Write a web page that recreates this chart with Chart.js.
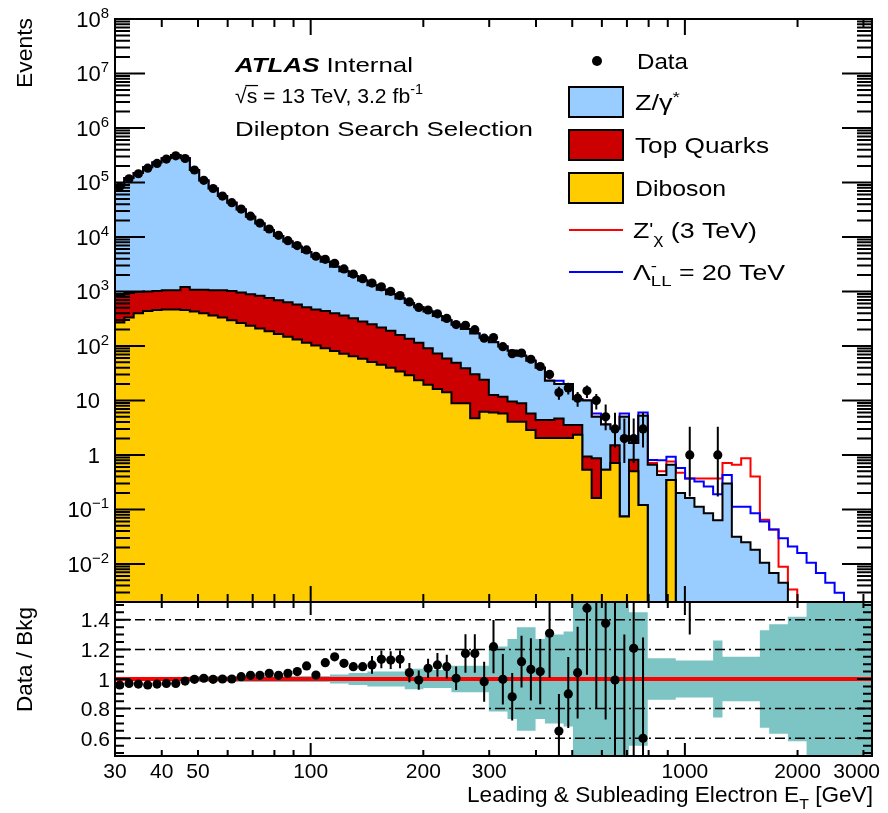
<!DOCTYPE html>
<html><head><meta charset="utf-8">
<script src="https://cdn.jsdelivr.net/npm/chart.js@4/dist/chart.umd.min.js"></script>
<style>
html,body{margin:0;padding:0;background:#fff;}
#wrap{position:relative;width:888px;height:813px;overflow:hidden;}
#wrap canvas{position:absolute;left:0;top:0;}
</style></head><body>
<div id="wrap">
<canvas id="cTop" width="888" height="813"></canvas>
<canvas id="cRatio" width="888" height="813"></canvas>
</div>
<script>
// ---------------- DATA ----------------
// Bin edges of the leading & subleading electron ET histogram [GeV]
const binEdges = [30.00,31.78,33.66,35.65,37.76,39.99,42.36,44.87,47.53,50.34,
53.32,56.47,59.81,63.36,67.11,71.08,75.29,79.74,84.46,89.46,
94.75,100.36,106.30,112.60,119.26,126.32,133.80,141.72,150.11,158.99,
168.40,178.37,188.93,200.11,211.96,224.50,237.79,251.87,266.78,282.57,
299.28,317.00,335.76,355.63,376.68,398.98,422.60,447.62,474.11,502.18,
531.88,563.36,596.71,632.04,669.45,709.07,751.05,795.50,842.59,892.47,
945.26,1001.2,1060.5,1123.2,1189.7,1260.2,1334.8,1413.8,1497.5,1586.1,
1679.9,1779.3,1884.7,1996.2,2114.4,2239.5,2372.1,2512.5,2661.2,2818.8,
2985.6,3162.3];

// Background components (events per bin)
const zGamma = [86250,119290,148650,189550,230720,276290,317370,278050,168750,108070,
76580,55190,41635,31034,22551,16747,12731,9779,7591,6032,
4796,3847,3071,2453,1981,1604,1303,1052,853,700,
583,482,398,336,282.6,236,196.5,165,139.8,117,
104.9,86,71.75,57.2,47.95,35.43,18.53,15.3,16.45,6.95,
9.07,4.14,3.09,1.51,4.94,0.847,5.13,0.66,0.427,0.313,
0.2,0.162,0.112,0.085,0.063,0.30,0.0316,0.0251,0.0182,0.0105,
0.0068,0.0045,0,0,0,0,0,0,0,0,0];
const topQuarks = [582,602,579,563,566,579,579,745,645,674,
684,716,728,692,657,623,573,526,483,443,
398,366,346,317,291,259,224,200,174,151,
124,106,91.6,71.7,56.2,44.8,40.1,30,25.5,17.8,
6.6,5.95,5.48,4.83,2.87,2.33,2.33,2.64,1.51,1.21,
0.396,0.709,0,0.80,0,0.312,0,0,0,0,
0,0,0,0,0,0,0,0,0,0,
0,0,0,0,0,0,0,0,0,0,0];
const diboson = [269,331,398,437,457,468,468,457,427,398,
363,331,295,263,234,209,186,166,148,132,
115,102,91,81,72,65,58,51,45,40,
34,29,23.4,19.5,16.2,14.1,8.9,8.9,4.7,6.2,
6.0,5.75,4.07,4.07,2.88,2.04,2.04,2.04,2.04,2.34,
0.537,0.162,0.537,0.708,0.074,0.501,0.12,0,0,0.347,
0,0,0,0,0,0,0,0,0,0,
0,0,0,0,0,0,0,0,0,0,0];
// Signal contributions added on top of the total background
const zPrimeSignal = [0,0,0,0,0,0,0,0,0,0, 0,0,0,0,0,0,0,0,0,0,
0,0,0,0,0,0,0,0,0,0, 0,0,0,0,0,0,0,0,0,0,
0,0,0,0,0,0,0,0,0,0, 0,0,0,0,0,0,0,0.048,0.073,0.10,
0.27,0.208,0.258,0.285,0.307,0.41,0.628,0.845,0.382,0.0541,
0.0359,0.0044,0.0034,0,0,0,0,0,0,0,0];
const ciSignal = [0,0,0,0,0,0,0,0,0,0, 0,0,0,0,0,0,0,0,0,0,
0,0,0,0,0,0,0,0,0,0, 0,0,0,0,0,0,0,0,0,0,
0,0,0,0,0,0,0,2.9,0,0, 0,0.74,0,0,0.74,0,0.75,0.15,0.373,0.27,
0.375,0.208,0.212,0.178,0.127,0.13,0.080,0.087,0.067,0.0495,
0.036,0.025,0.0209,0.0158,0.0105,0.0068,0.0045,0.00295,0,0,0];
// Observed data (events per bin)
const dataCounts = [83600,116600,144500,182900,223900,269000,308900,275300,169500,109700,
77500,56230,42660,32500,24030,18020,14000,10730,8535,6937,
5776,4431,3894,3279,2593,2088,1716,1427,1215,1005,
840,643,509,457,388,320,247,240,199,139,
143,97,72,74,57,42,30,14,17,11,
15,10,5,3,2,2,3,0,0,0,
0,1,0,0,1,0,0,0,0,0,
0,0,0,0,0,0,0,0,0,0,0];
// Ratio panel: Data / Bkg, its error bars, and the background uncertainty band
const ratioValues = [0.96,0.97,0.966,0.96,0.966,0.97,0.97,0.986,0.998,1.005,
0.998,1.0,1.0,1.016,1.025,1.025,1.038,1.025,1.038,1.05,
1.088,1.027,1.11,1.15,1.106,1.083,1.083,1.095,1.133,1.128,
1.133,1.043,0.993,1.072,1.095,1.083,1.005,1.173,1.173,0.982,
1.218,0.998,0.88,1.117,1.065,1.05,1.309,0.649,0.899,1.043,
1.478,1.65,1.376,0.993,0.40,1.207,0.60,null,null,null,
null,3.3,null,null,10,null,null,null,null,null,
null,null,null,null,null,null,null,null,null,null,null];
const ratioErrUp = [0.004,0.004,0.004,0.004,0.004,0.004,0.004,0.004,0.004,
0.006,0.006,0.006,0.006,0.006,0.006,
0.01,0.01,0.01,0.01,0.01,
0.015,0.015,0.015,
0.02,0.02,0.02,0.02,
0.06,0.06,0.06,0.06,
0.065,0.065,0.065,
0.08,0.08,0.08,
0.13,0.13,0.135,0.18,0.17,0.16,0.175,0.21,0.22,0.30,
0.25,0.25,0.31,0.5,0.8,0.6,0.9,0.9,0.9,0.68,
0,0,0,0, 5.0, 0,0, 20,
0,0,0,0,0,0,0,0,0,0,0,0,0,0,0,0];
const ratioErrDn = [0.004,0.004,0.004,0.004,0.004,0.004,0.004,0.004,0.004,
0.006,0.006,0.006,0.006,0.006,0.006,
0.01,0.01,0.01,0.01,0.01,
0.015,0.015,0.015,
0.02,0.02,0.02,0.02,
0.06,0.06,0.06,0.06,
0.065,0.065,0.065,
0.08,0.08,0.08,
0.13,0.13,0.135,0.18,0.17,0.16,0.175,0.21,0.22,0.30,
0.25,0.23,0.31,0.45,0.85,0.65,0.55,0.3,0.8,0.4,
0,0,0,0, 2.0, 0,0, 8.3,
0,0,0,0,0,0,0,0,0,0,0,0,0,0,0,0];
const bandHalfWidth = [0.012,0.012,0.012,0.012,0.012,0.012,0.012,0.012,0.02,0.02,
0.02,0.02,0.02,0.02,0.02,0.02,0.02,0.02,0.02,0.02,
0.02,0.02,0.02,0.03,0.03,0.04,0.04,0.05,0.05,0.05,
0.05,0.07,0.07,0.06,0.06,0.06,0.09,0.09,0.09,0.09,
0.22,0.22,0.27,0.35,0.35,0.27,0.3,0.3,0.32,0.6,
0.6,0.6,0.6,0.6,0.6,0.45,0.45,0.14,0.14,0.14,
0.125,0.125,0.125,0.125,0.26,0.15,0.15,0.15,0.15,0.33,
0.37,0.37,0.42,0.42,0.6,0.6,0.6,0.6,0.6,0.6,0.6];
const ratioReference = 1;

// Axis tick labels
const xTickLabels = [30,40,50,100,200,300,1000,2000,3000];
const xMajorTicks = [100,1000];
const xMinorTicks = [40,50,60,70,80,90,200,300,400,500,600,700,800,900,2000,3000];
const yTopExponents = [8,7,6,5,4,3,2,1,0,-1,-2];
const ratioTickLabels = ['0.6','0.8','1','1.2','1.4'];
const ratioGridValues = [0.6,0.8,1.2,1.4];

// ---------------- helpers ----------------
[zGamma,topQuarks,diboson,zPrimeSignal,ciSignal,dataCounts,ratioValues,ratioErrUp,ratioErrDn,bandHalfWidth].forEach((a,k)=>{
  if (a.length !== binEdges.length-1) throw new Error('array '+k+' has length '+a.length);
});
const FLOOR = 1e-6;
const pos = v => (v > 0 ? v : FLOOR);
function histPoints(vals, floorZero=true) {
  const f = floorZero ? pos : (v=>v);
  const pts = vals.map((v, i) => ({ x: binEdges[i], y: f(v) }));
  pts.push({ x: binEdges[vals.length], y: f(vals[vals.length - 1]) });
  return pts;
}
const centers = binEdges.slice(0, -1).map((e, i) => Math.sqrt(e * binEdges[i + 1]));
const stackDib = diboson.slice();
const stackTop = diboson.map((v, i) => v + topQuarks[i]);
const stackZ = stackTop.map((v, i) => v + zGamma[i]);
const zpLine = stackZ.map((v, i) => v + zPrimeSignal[i]);
const ciLine = stackZ.map((v, i) => v + ciSignal[i]);

function poissonInterval(n){
  const t = {1:[0.173,3.30],2:[0.708,4.64],3:[1.37,5.92],4:[2.09,7.16],5:[2.84,8.38]};
  return t[n] || [n-Math.sqrt(n), n+Math.sqrt(n)];
}
const dataPts = centers.map((c,i)=>({x:c, y: dataCounts[i]>0 ? dataCounts[i] : null}));
const dataErrPts = [];
centers.forEach((c,i)=>{ const n=dataCounts[i]; if(!(n>0)) return; const [lo,hi]=poissonInterval(n);
  dataErrPts.push({x:c,y:lo},{x:c,y:hi},{x:c,y:null}); });
const ratioPts = centers.map((c,i)=>({x:c, y: ratioValues[i]}));
const ratioErrPts = [];
centers.forEach((c,i)=>{ const r=ratioValues[i]; if(r==null) return;
  ratioErrPts.push({x:c,y:r-ratioErrDn[i]},{x:c,y:r+ratioErrUp[i]},{x:c,y:null}); });
const bandUp = bandHalfWidth.map(w=>ratioReference+w);
const bandDn = bandHalfWidth.map(w=>ratioReference-w);

const FAMILY = '"Liberation Sans", Arial, Helvetica, sans-serif';
function segFont(s,size){ const fs=size*(s.sc||1); return (s.it?'italic ':'')+(s.b?'bold ':'')+fs.toFixed(2)+'px '+FAMILY; }
function richWidth(ctx,segs,size){ let w=0; for(const s of segs){ if(s.na) continue; ctx.font=segFont(s,size); w+=ctx.measureText(s.t).width; } return w; }
function drawRich(ctx,segs,x,y,size,opt={}){
  const w=richWidth(ctx,segs,size);
  const k=opt.width? opt.width/w : 1;
  ctx.save(); ctx.translate(x,y); ctx.scale(k,1);
  ctx.textAlign='left'; ctx.textBaseline='alphabetic'; ctx.fillStyle=opt.color||'#000';
  let cx = opt.align==='right' ? -w : (opt.align==='center' ? -w/2 : 0);
  for(const s of segs){
    ctx.font=segFont(s,size);
    const dy=(s.dy||0)*size;
    ctx.fillText(s.t,cx,dy);
    const sw=ctx.measureText(s.t).width;
    if(s.over){ ctx.fillRect(cx-size*0.06, dy-size*0.86, sw+size*0.1, Math.max(1.2,size*0.06)); }
    if(!s.na) cx+=sw;
  }
  ctx.restore();
}

// ---------------- decorations (frames, ticks, labels) ----------------
const topDecor = {
  id:'topDecor',
  afterDraw(chart){
    const {ctx, chartArea:a, scales:{x,y}} = chart;
    ctx.save();
    ctx.strokeStyle='#000'; ctx.lineWidth=2; ctx.lineCap='butt';
    ctx.beginPath();
    for(let d=-3; d<=8; d++) for(let m=1; m<=9; m++){
      const v=m*Math.pow(10,d); if(v<y.min*0.999||v>y.max*1.001) continue;
      const py=y.getPixelForValue(v); const L=m===1?30:15;
      ctx.moveTo(a.left,py); ctx.lineTo(a.left+L,py);
      ctx.moveTo(a.right,py); ctx.lineTo(a.right-L,py);
    }
    for(const v of xMinorTicks.concat(xMajorTicks)){
      const px=x.getPixelForValue(v); const L=xMajorTicks.includes(v)?16:8;
      ctx.moveTo(px,a.top); ctx.lineTo(px,a.top+L);
      ctx.moveTo(px,a.bottom); ctx.lineTo(px,a.bottom-L);
    }
    ctx.stroke();
    ctx.strokeRect(a.left,a.top,a.right-a.left,a.bottom-a.top);

    // y tick labels
    ctx.fillStyle='#000';
    for(const e of yTopExponents){
      const py=y.getPixelForValue(Math.pow(10,e)); const base=py+8;
      if(e===0) drawRich(ctx,[{t:'1'}],100,base,22,{align:'right'});
      else if(e===1) drawRich(ctx,[{t:'10'}],100,base,22,{align:'right'});
      else drawRich(ctx,[{t:'10'},{t:(e<0?'\u2212'+(-e):String(e)),sc:0.68,dy:-0.42}],109,base,22,{align:'right'});
    }
    // y title
    ctx.save(); ctx.translate(32,88); ctx.rotate(-Math.PI/2);
    drawRich(ctx,[{t:'Events'}],0,0,22,{width:70});
    ctx.restore();

    // ATLAS label block
    drawRich(ctx,[{t:'ATLAS',b:true,it:true},{t:' Internal'}],235,72,21,{width:178});
    drawRich(ctx,[{t:'\u221A'},{t:'s',over:true},{t:' = 13 TeV, 3.2 fb'},{t:'-1',sc:0.68,dy:-0.42}],235,103,21,{width:188});
    drawRich(ctx,[{t:'Dilepton Search Selection'}],235,136,21,{width:298});

    // legend
    ctx.beginPath(); ctx.arc(597,61,5,0,Math.PI*2); ctx.fill();
    drawRich(ctx,[{t:'Data'}],637,68.5,22,{width:51});
    const boxes=[['#99ccff',87,[{t:'Z/\u03B3'},{t:'*',sc:0.7,dy:-0.38}],110,45],
                 ['#cc0000',130,[{t:'Top Quarks'}],153,134],
                 ['#ffcc00',173,[{t:'Diboson'}],196,91]];
    for(const [col,by,segs,bl,tw] of boxes){
      ctx.fillStyle=col; ctx.fillRect(569,by,54,30);
      ctx.lineWidth=2; ctx.strokeStyle='#000'; ctx.strokeRect(569,by,54,30);
      ctx.fillStyle='#000';
      drawRich(ctx,segs,635,bl,22,{width:tw});
    }
    ctx.lineWidth=2;
    ctx.strokeStyle='#ff0000'; ctx.beginPath(); ctx.moveTo(569,230); ctx.lineTo(623,230); ctx.stroke();
    ctx.strokeStyle='#0000ff'; ctx.beginPath(); ctx.moveTo(569,272); ctx.lineTo(623,272); ctx.stroke();
    drawRich(ctx,[{t:'Z'},{t:"'",sc:0.8,dy:-0.1},{t:'\u03C7',sc:0.7,dy:0.25},{t:' (3 TeV)'}],633,238,22,{width:124});
    drawRich(ctx,[{t:'\u039B'},{t:'-',sc:0.7,dy:-0.42,na:true},{t:'LL',sc:0.7,dy:0.28},{t:' = 20 TeV'}],633,280,22,{width:152});
    ctx.restore();
  }
};

const ratioDecor = {
  id:'ratioDecor',
  afterDatasetDraw(chart,args){
    if(args.index!==3) return;
    const {ctx, chartArea:a, scales:{y}} = chart;
    ctx.save();
    ctx.strokeStyle='#000'; ctx.lineWidth=1.5; ctx.setLineDash([10,4,2,4]);
    ctx.beginPath();
    for(const v of ratioGridValues){ const py=y.getPixelForValue(v); ctx.moveTo(a.left,py); ctx.lineTo(a.right,py); }
    ctx.stroke(); ctx.restore();
  },
  afterDraw(chart){
    const {ctx, chartArea:a, scales:{x,y}} = chart;
    ctx.save();
    ctx.strokeStyle='#000'; ctx.lineWidth=2; ctx.setLineDash([]);
    ctx.beginPath();
    for(let k=10;k<=30;k++){
      const v=k*0.05; const py=y.getPixelForValue(v);
      const major=Math.abs(v*5-Math.round(v*5))<1e-6; const L=major?15:9;
      ctx.moveTo(a.left,py); ctx.lineTo(a.left+L,py);
      ctx.moveTo(a.right,py); ctx.lineTo(a.right-L,py);
    }
    for(const v of xMinorTicks.concat(xMajorTicks)){
      const px=x.getPixelForValue(v); const L=xMajorTicks.includes(v)?13:6;
      ctx.moveTo(px,a.top); ctx.lineTo(px,a.top+L);
      ctx.moveTo(px,a.bottom); ctx.lineTo(px,a.bottom-L);
    }
    ctx.stroke();
    ctx.strokeRect(a.left,a.top,a.right-a.left,a.bottom-a.top);
    ctx.fillStyle='#000';
    for(const t of ratioTickLabels){ const py=y.getPixelForValue(parseFloat(t)); drawRich(ctx,[{t}],110,py+7.5,21,{align:'right'}); }
    for(const v of xTickLabels){
      let px=x.getPixelForValue(v);
      ctx.font='21px '+FAMILY; const w=ctx.measureText(String(v)).width;
      if(px+w/2>880) px=880-w/2;
      drawRich(ctx,[{t:String(v)}],px,778,21,{align:'center'});
    }
    drawRich(ctx,[{t:'Leading & Subleading Electron E'},{t:'T',sc:0.7,dy:0.3},{t:' [GeV]'}],873,802,22,{align:'right',width:406});
    ctx.save(); ctx.translate(32,712); ctx.rotate(-Math.PI/2);
    drawRich(ctx,[{t:'Data / Bkg'}],0,0,22,{width:105});
    ctx.restore();
    ctx.restore();
  }
};

const baseOpts = {
  responsive:false, animation:false, events:[],
  plugins:{legend:{display:false}, tooltip:{enabled:false}},
  elements:{point:{radius:0}, line:{tension:0}}
};
const histStyle = {stepped:true, pointRadius:0, borderWidth:2, borderColor:'#000', fill:'start'};

new Chart(document.getElementById('cTop'), {
  type:'line',
  data:{datasets:[
    {label:'Data', data:dataPts, showLine:false, pointRadius:4.6, pointBackgroundColor:'#000', pointBorderWidth:0, order:0},
    {label:'Data errors', data:dataErrPts, borderColor:'#000', borderWidth:2, pointRadius:0, spanGaps:false, fill:false, order:1},
    {label:'Diboson', data:histPoints(stackDib), ...histStyle, backgroundColor:'#ffcc00', order:2},
    {label:'Top Quarks', data:histPoints(stackTop), ...histStyle, backgroundColor:'#cc0000', order:3},
    {label:'Z/\u03B3*', data:histPoints(stackZ), ...histStyle, backgroundColor:'#99ccff', order:4},
    {label:'CI', data:histPoints(ciLine), stepped:true, pointRadius:0, borderWidth:2, borderColor:'#0000ff', fill:false, order:5},
    {label:"Z'", data:histPoints(zpLine), stepped:true, pointRadius:0, borderWidth:2, borderColor:'#ff0000', fill:false, order:6}
  ]},
  options:{...baseOpts,
    layout:{padding:{left:115,right:16,top:19,bottom:211}},
    scales:{
      x:{type:'logarithmic', min:30, max:3162.3, display:false},
      y:{type:'logarithmic', min:0.002, max:1e8, display:false}
    }},
  plugins:[topDecor]
});

new Chart(document.getElementById('cRatio'), {
  type:'line',
  data:{datasets:[
    {label:'Ratio', data:ratioPts, showLine:false, pointRadius:4.6, pointBackgroundColor:'#000', pointBorderWidth:0, order:0},
    {label:'Ratio errors', data:ratioErrPts, borderColor:'#000', borderWidth:2, pointRadius:0, spanGaps:false, fill:false, order:1},
    {label:'Unity', data:[{x:binEdges[0],y:ratioReference},{x:binEdges[binEdges.length-1],y:ratioReference}], borderColor:'#ff0000', borderWidth:4, pointRadius:0, fill:false, order:2},
    {label:'Band up', data:histPoints(bandUp,false), stepped:true, pointRadius:0, borderWidth:1, borderColor:'rgba(0,0,0,0)', backgroundColor:'rgb(125,196,196)', fill:'+1', order:4},
    {label:'Band down', data:histPoints(bandDn,false), stepped:true, pointRadius:0, borderWidth:1, borderColor:'rgba(0,0,0,0)', fill:false, order:5}
  ]},
  options:{...baseOpts,
    layout:{padding:{left:115,right:16,top:602,bottom:57}},
    scales:{
      x:{type:'logarithmic', min:30, max:3162.3, display:false},
      y:{type:'linear', min:0.48, max:1.52, display:false}
    }},
  plugins:[ratioDecor]
});
</script>
</body></html>
